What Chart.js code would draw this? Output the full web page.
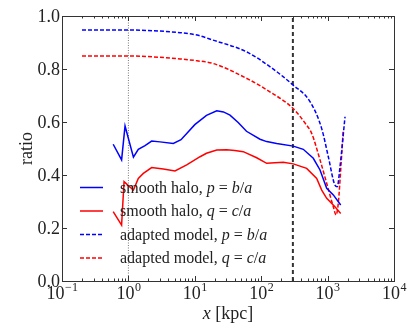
<!DOCTYPE html>
<html>
<head>
<meta charset="utf-8">
<script src="https://cdn.jsdelivr.net/npm/chart.js@4"></script>
<style>
html, body { margin: 0; padding: 0; background: #fff; }
#wrap { width: 415px; height: 331px; }
</style>
</head>
<body>
<div id="wrap"><canvas id="chart"></canvas></div>
<script>
// smooth halo, p = b/a
var smoothPX = [0.59, 0.79, 0.89, 1.19, 1.41, 1.78, 2.24, 2.99, 4.75, 6.2, 7.55, 10, 15, 21.4, 27, 33.9, 45, 60, 96, 121, 171, 304, 430, 609, 769, 969, 1220, 1575];
var smoothPY = [0.516, 0.457, 0.585, 0.467, 0.497, 0.511, 0.528, 0.525, 0.519, 0.533, 0.557, 0.590, 0.625, 0.642, 0.638, 0.626, 0.598, 0.565, 0.535, 0.526, 0.519, 0.509, 0.497, 0.463, 0.419, 0.350, 0.325, 0.287];
// smooth halo, q = c/a
var smoothQX = [0.59, 0.79, 0.86, 1.0, 1.19, 1.41, 1.68, 2.24, 3.36, 5.03, 7.55, 12.0, 15, 21.4, 30.2, 40, 53.7, 85.5, 121, 215, 304, 484, 685, 815, 969, 1290, 1575];
var smoothQY = [0.262, 0.211, 0.375, 0.360, 0.343, 0.387, 0.406, 0.428, 0.423, 0.415, 0.438, 0.469, 0.482, 0.494, 0.495, 0.492, 0.488, 0.465, 0.444, 0.448, 0.442, 0.425, 0.387, 0.343, 0.312, 0.280, 0.255];
// adapted model, p = b/a
var adaptPX = [0.2, 1, 6, 10.8, 18.8, 60, 135, 300, 543, 815, 1025, 1290, 1400, 1537, 1830];
var adaptPY = [0.947, 0.947, 0.937, 0.928, 0.909, 0.865, 0.809, 0.740, 0.677, 0.575, 0.469, 0.362, 0.356, 0.431, 0.620];
// adapted model, q = c/a
var adaptQX = [0.2, 1, 6, 10.8, 18.8, 60, 135, 300, 457, 575, 769, 968, 1220, 1340, 1449, 1575, 1720];
var adaptQY = [0.849, 0.849, 0.838, 0.831, 0.821, 0.765, 0.714, 0.652, 0.596, 0.557, 0.457, 0.369, 0.280, 0.249, 0.294, 0.419, 0.570];

// vertical marker lines (kpc)
var markerDotted = 1;
var markerDashed = 300;

var yTickLabels = ['0.0', '0.2', '0.4', '0.6', '0.8', '1.0'];
var xTickExps = [-1, 0, 1, 2, 3, 4];

// legend text pieces: [text, italic]
var legendItems = [
    [['smooth halo, ', false], ['p', true], [' = ', false], ['b', true], ['/', false], ['a', true]],
    [['smooth halo, ', false], ['q', true], [' = ', false], ['c', true], ['/', false], ['a', true]],
    [['adapted model, ', false], ['p', true], [' = ', false], ['b', true], ['/', false], ['a', true]],
    [['adapted model, ', false], ['q', true], [' = ', false], ['c', true], ['/', false], ['a', true]]
];

var SERIF = '"Liberation Serif", "DejaVu Serif", serif';

function pts(xs, ys) {
    return xs.map(function (x, i) { return { x: x, y: ys[i] }; });
}

function drawPieces(ctx, pieces, x, y, size) {
    pieces.forEach(function (p) {
        ctx.font = (p[1] ? 'italic ' : '') + size + 'px ' + SERIF;
        ctx.fillText(p[0], x, y);
        x += ctx.measureText(p[0]).width;
    });
}

var axesPlugin = {
    id: 'axesPlugin',
    afterDraw: function (chart) {
        var ctx = chart.ctx;
        var a = chart.chartArea;
        var xs = chart.scales.x, ys = chart.scales.y;
        ctx.save();
        // frame
        ctx.strokeStyle = '#333';
        ctx.lineWidth = 1;
        ctx.strokeRect(Math.round(a.left) + 0.5, Math.round(a.top) + 0.5, Math.round(a.right - a.left), Math.round(a.bottom - a.top));

        // x ticks, inward, top and bottom
        ctx.beginPath();
        xTickExps.forEach(function (e) {
            for (var k = 1; k <= 9; k++) {
                var v = k * Math.pow(10, e);
                if (v > xs.max * 1.0001) break;
                var px = Math.round(xs.getPixelForValue(v)) + 0.5;
                var len = k === 1 ? 5 : 2.5;
                ctx.moveTo(px, a.bottom); ctx.lineTo(px, a.bottom - len);
                ctx.moveTo(px, a.top); ctx.lineTo(px, a.top + len);
            }
        });
        // y ticks
        yTickLabels.forEach(function (t) {
            var py = Math.round(ys.getPixelForValue(parseFloat(t))) + 0.5;
            ctx.moveTo(a.left, py); ctx.lineTo(a.left + 5, py);
            ctx.moveTo(a.right, py); ctx.lineTo(a.right - 5, py);
        });
        ctx.stroke();

        ctx.fillStyle = '#222';
        // y tick labels
        ctx.font = '18px ' + SERIF;
        ctx.textAlign = 'right';
        ctx.textBaseline = 'middle';
        yTickLabels.forEach(function (t) {
            ctx.fillText(t, a.left - 2, ys.getPixelForValue(parseFloat(t)) + 1);
        });

        // x tick labels 10^e
        ctx.textAlign = 'left';
        ctx.textBaseline = 'alphabetic';
        xTickExps.forEach(function (e) {
            var base = '10', ex = e < 0 ? '\u2212' + (-e) : String(e);
            ctx.font = '18px ' + SERIF;
            var wb = ctx.measureText(base).width;
            ctx.font = '12px ' + SERIF;
            var we = ctx.measureText(ex).width;
            var cx = xs.getPixelForValue(Math.pow(10, e));
            var x0 = cx - (wb + we) / 2;
            ctx.font = '18px ' + SERIF;
            ctx.fillText(base, x0, a.bottom + 18);
            ctx.font = '12px ' + SERIF;
            ctx.fillText(ex, x0 + wb + 0.5, a.bottom + 10);
        });

        // axis titles
        var w1, w2;
        ctx.font = 'italic 18px ' + SERIF; w1 = ctx.measureText('x').width;
        ctx.font = '18px ' + SERIF; w2 = ctx.measureText(' [kpc]').width;
        drawPieces(ctx, [['x', true], [' [kpc]', false]], (a.left + a.right) / 2 - (w1 + w2) / 2, a.bottom + 38, 18);

        ctx.save();
        ctx.translate(27, (a.top + a.bottom) / 2);
        ctx.rotate(-Math.PI / 2);
        ctx.textAlign = 'center';
        ctx.textBaseline = 'middle';
        ctx.font = '18px ' + SERIF;
        ctx.fillText('ratio', 0, 0);
        ctx.restore();

        // legend
        var ds = chart.data.datasets;
        ctx.textAlign = 'left';
        ctx.textBaseline = 'middle';
        legendItems.forEach(function (item, i) {
            var d = ds[i];
            var y = a.bottom - 93.5 + i * 23.5;
            ctx.save();
            ctx.strokeStyle = d.borderColor;
            ctx.lineWidth = d.borderWidth;
            ctx.setLineDash(d.borderDash || []);
            ctx.beginPath();
            ctx.moveTo(a.left + 18, y);
            ctx.lineTo(a.left + 41, y);
            ctx.stroke();
            ctx.restore();
            ctx.fillStyle = '#222';
            drawPieces(ctx, item, a.left + 58, y + 1, 16);
        });
        ctx.restore();
    }
};

new Chart(document.getElementById('chart'), {
    type: 'line',
    data: {
        datasets: [
            { label: 'smooth halo, p = b/a', data: pts(smoothPX, smoothPY), borderColor: '#0000ff', borderWidth: 1.5, tension: 0 },
            { label: 'smooth halo, q = c/a', data: pts(smoothQX, smoothQY), borderColor: '#ff0000', borderWidth: 1.5, tension: 0 },
            { label: 'adapted model, p = b/a', data: pts(adaptPX, adaptPY), borderColor: '#0000ff', borderWidth: 1.5, borderDash: [4, 2], cubicInterpolationMode: 'monotone' },
            { label: 'adapted model, q = c/a', data: pts(adaptQX, adaptQY), borderColor: '#ff0000', borderWidth: 1.5, borderDash: [4, 2], cubicInterpolationMode: 'monotone' },
            { label: 'dotted', data: [{ x: markerDotted, y: 0 }, { x: markerDotted, y: 1 }], borderColor: '#777', borderWidth: 1, borderDash: [1, 1.5] },
            { label: 'dashed', data: [{ x: markerDashed, y: 0 }, { x: markerDashed, y: 1 }], borderColor: '#333', borderWidth: 2, borderDash: [4, 3] }
        ]
    },
    options: {
        responsive: true,
        maintainAspectRatio: false,
        animation: false,
        layout: { padding: { top: 16, right: 21, left: 0, bottom: 0 } },
        elements: { point: { radius: 0 } },
        plugins: { legend: { display: false }, tooltip: { enabled: false } },
        scales: {
            x: {
                type: 'logarithmic', min: 0.1, max: 10000,
                grid: { display: false }, border: { display: false },
                ticks: { display: false },
                afterFit: function (s) { s.height = 50; }
            },
            y: {
                min: 0, max: 1,
                grid: { display: false }, border: { display: false },
                ticks: { display: false },
                afterFit: function (s) { s.width = 62; }
            }
        }
    },
    plugins: [axesPlugin]
});
</script>
</body>
</html>
